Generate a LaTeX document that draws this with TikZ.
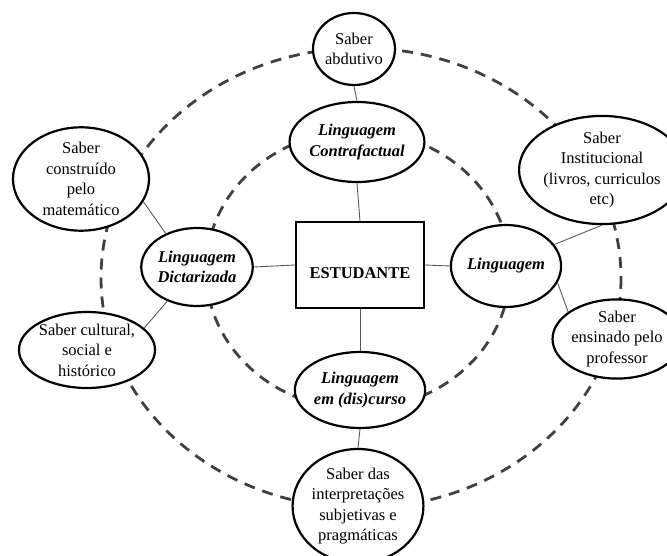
\documentclass[tikz,border=0pt]{standalone}
\usepackage{fontspec}
\setmainfont{Liberation Serif}
\usetikzlibrary{shapes.geometric}
\begin{document}
\begin{tikzpicture}[x=1pt,y=-1pt,
  bubble/.style={draw=black, line width=2.2pt, fill=white, ellipse, inner sep=0pt, align=center,
    font=\fontsize{16.5}{20.5}\selectfont},
  lang/.style={bubble, font=\fontsize{16.5}{20.5}\selectfont\bfseries\itshape},
  orbit/.style={draw=black!75, line width=2.8pt, dash pattern=on 11pt off 8pt},
  link/.style={draw=black!65, line width=0.9pt}]
\useasboundingbox (0,0) rectangle (667,556);
% dashed orbits
\draw[orbit] (361,278) ellipse [x radius=260, y radius=230];
\draw[orbit] (358,270) ellipse [x radius=152, y radius=139];
% centre box
\node[draw=black, line width=1.5pt, fill=white, minimum width=128pt, minimum height=86pt, inner sep=0pt,
  text height=27pt, text depth=0pt,
  font=\fontsize{16.5}{20.5}\selectfont\bfseries] (box) at (360,265) {ESTUDANTE};
% inner language nodes
\node[lang, minimum width=120pt, minimum height=80pt] (lc) at (357,142) {Linguagem\\Contrafactual};
\node[lang, minimum width=104pt, minimum height=78pt] (ld) at (197,267) {Linguagem\\Dictarizada};
\node[lang, minimum width=88pt, minimum height=82pt] (lg) at (506,266) {Linguagem};
\node[lang, minimum width=100pt, minimum height=76pt] (ldc) at (360,390) {Linguagem\\em (dis)curso};
% outer knowledge nodes
\node[bubble, minimum width=82pt, minimum height=72pt] (sa) at (354,49) {Saber\\abdutivo};
\node[bubble, minimum width=136pt, minimum height=102pt] (sc) at (81,179) {Saber\\construído\\pelo\\matemático};
\node[bubble, minimum width=118pt, minimum height=86pt] (si) at (602,170) {Saber\\Institucional\\(livros, curriculos\\etc)};
\node[bubble, minimum width=120pt, minimum height=76pt] (scu) at (87,350) {Saber cultural,\\social e\\histórico};
\node[bubble, minimum width=100pt, minimum height=68pt] (se) at (617,339) {Saber\\ensinado pelo\\professor};
\node[bubble, minimum width=114pt, minimum height=114pt] (sip) at (358,506) {Saber das\\interpretações\\subjetivas e\\pragmáticas};
% connectors
\draw[link] (sa.south) -- (lc.north);
\draw[link] (lc.south) -- (box.north);
\draw[link] (ld.east) -- (box.west);
\draw[link] (box.east) -- (lg.west);
\draw[link] (box.south) -- (ldc.north);
\draw[link] (ldc.south) -- (sip.north);
\draw[link] (sc.-20) -- (ld.133);
\draw[link] (ld.229) -- (scu.21);
\draw[link] (lg.24) -- (si.-90);
\draw[link] (lg.-18) -- (se.151);
\end{tikzpicture}
\end{document}
